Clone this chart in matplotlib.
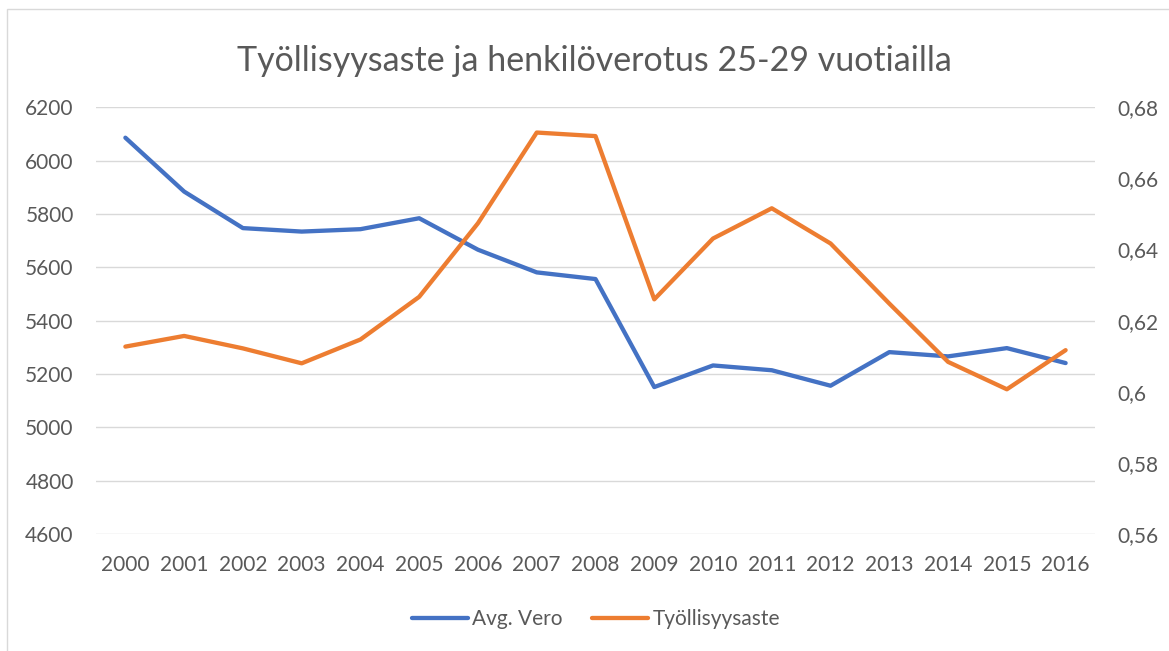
import matplotlib.pyplot as plt
from matplotlib.patches import Rectangle
from matplotlib.ticker import FuncFormatter, MultipleLocator

plt.rcParams['font.family'] = ['Lato', 'DejaVu Sans']

years = [str(y) for y in range(2000, 2017)]
avg_vero = [6086, 5884, 5747, 5734, 5743, 5784, 5666, 5581, 5556,
            5151, 5232, 5214, 5156, 5282, 5266, 5297, 5241]
tyollisyysaste = [0.6127, 0.6157, 0.6122, 0.6080, 0.6147, 0.6267, 0.6474, 0.6729, 0.6719,
                  0.6260, 0.6431, 0.6516, 0.6417, 0.6248, 0.6084, 0.6007, 0.6117]

BLUE = '#4472C4'
ORANGE = '#ED7D31'
TXT = '#595959'
GRID = '#D9D9D9'

fig = plt.figure(figsize=(11.69, 6.51), dpi=100)
ax1 = fig.add_axes([96 / 1169, 1 - 534 / 651, 999 / 1169, 426.7 / 651])
ax2 = ax1.twinx()

# chart border
fig.patches.append(Rectangle((7 / 1169, -0.1), 1.2, 1 - 9 / 651 + 0.1, transform=fig.transFigure,
                             fill=False, edgecolor=GRID, lw=1.0))

x = range(len(years))
l1, = ax1.plot(x, avg_vero, color=BLUE, lw=3.1, solid_capstyle='round', solid_joinstyle='round',
               label='Avg. Vero', zorder=3)
l2, = ax2.plot(x, tyollisyysaste, color=ORANGE, lw=3.1, solid_capstyle='round',
               solid_joinstyle='round', label='Työllisyysaste', zorder=3)

ax1.set_xlim(-0.5, len(years) - 0.5)
ax1.set_ylim(4600, 6200)
ax1.yaxis.set_major_locator(MultipleLocator(200))
ax2.set_ylim(0.56, 0.68)
ax2.yaxis.set_major_locator(MultipleLocator(0.02))
ax2.yaxis.set_major_formatter(FuncFormatter(lambda v, p: f"{v:g}".replace('.', ',')))

ax1.set_xticks(list(x))
ax1.set_xticklabels(years)
ax1.grid(axis='y', color=GRID, lw=1.0, zorder=0)
ax1.set_axisbelow(True)

for ax in (ax1, ax2):
    for s in ax.spines.values():
        s.set_visible(False)
    ax.tick_params(length=0, labelsize=15, labelcolor=TXT)
ax1.tick_params(axis='y', pad=16)
ax1.tick_params(axis='x', pad=15)
ax2.tick_params(axis='y', pad=16)

fig.text(594 / 1169, 1 - 61 / 651, 'Työllisyysaste ja henkilöverotus 25-29 vuotiailla',
         ha='center', va='center', fontsize=24.5, color=TXT)

fig.legend(handles=[l1, l2], loc='center', bbox_to_anchor=(596 / 1169, 1 - 619 / 651), ncol=2,
           frameon=False, fontsize=15, labelcolor=TXT, handlelength=2.7, handletextpad=0.2,
           columnspacing=1.4)

fig.savefig('out.png', dpi=100)
